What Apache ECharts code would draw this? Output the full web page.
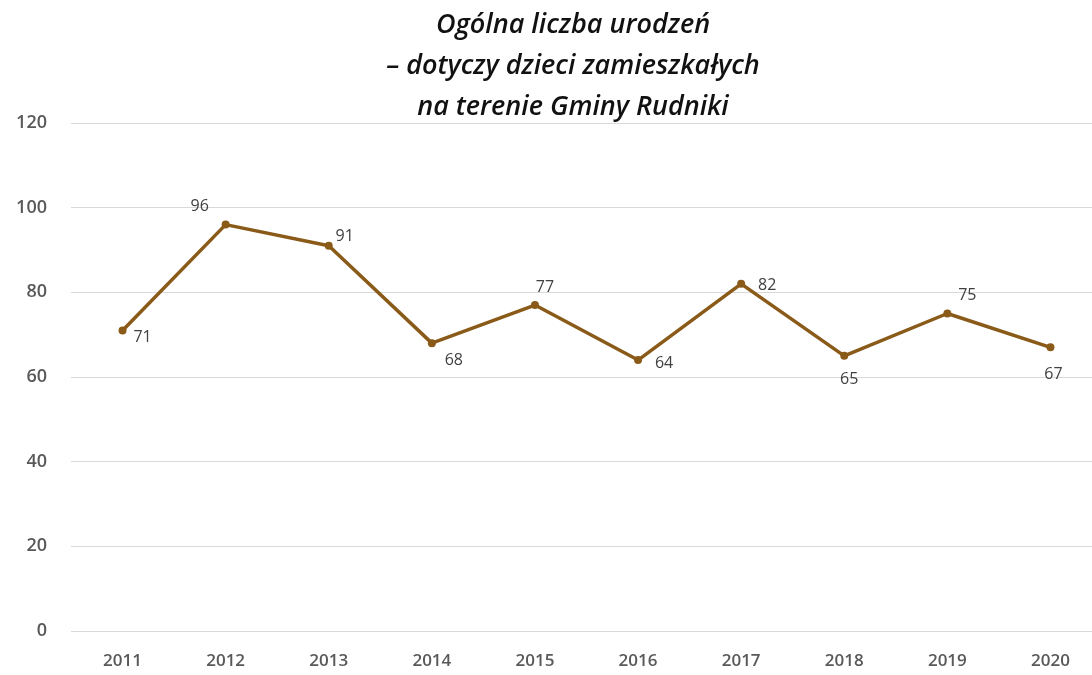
<!DOCTYPE html>
<html>
<head>
<meta charset="utf-8">
<title>Ogólna liczba urodzeń</title>
<script src="https://cdn.jsdelivr.net/npm/echarts@6/dist/echarts.min.js"></script>
<style>
  html, body { margin: 0; padding: 0; background: #fff; }
  #chart { width: 1092px; height: 675px; }
</style>
</head>
<body>
<div id="chart"></div>
<script>
const years = ['2011', '2012', '2013', '2014', '2015', '2016', '2017', '2018', '2019', '2020']
const births = [71, 96, 91, 68, 77, 64, 82, 65, 75, 67]
const yTicks = [0, 20, 40, 60, 80, 100, 120]

// where each value label sits relative to its point (px)
const labelOffsets = [[20, 7], [-26, -18], [16, -9], [22, 17], [10, -18], [26, 3], [26, 2], [5, 24], [20, -18], [3, 27]]

const chart = echarts.init(document.getElementById('chart'))
chart.setOption({
  animation: false,
  title: {
    text: 'Ogólna liczba urodzeń\n– dotyczy dzieci zamieszkałych\nna terenie Gminy Rudniki',
    left: 568,
    top: 0,
    textAlign: 'center',
    textStyle: {
      fontFamily: 'Open Sans',
      fontStyle: 'italic',
      fontWeight: 600,
      fontSize: 27,
      lineHeight: 41,
      color: '#111'
    }
  },
  grid: {
    left: 71,
    width: 1031,
    top: 123,
    bottom: 44,
    outerBoundsMode: 'none'
  },
  xAxis: {
    type: 'category',
    data: years,
    boundaryGap: true,
    axisLine: { show: false },
    axisTick: { show: false },
    axisLabel: {
      color: '#595959',
      fontFamily: 'Open Sans',
      fontWeight: 600,
      fontSize: 17,
      margin: 22
    }
  },
  yAxis: {
    type: 'value',
    min: yTicks[0],
    max: yTicks[yTicks.length - 1],
    interval: 20,
    axisLine: { show: false },
    axisTick: { show: false },
    axisLabel: {
      color: '#595959',
      fontFamily: 'Open Sans',
      fontWeight: 600,
      fontSize: 18,
      margin: 24
    },
    splitLine: {
      lineStyle: { color: '#d9d9d9', width: 1 }
    }
  },
  series: [
    {
      type: 'line',
      data: births.map((v, i) => ({
        value: v,
        label: { offset: labelOffsets[i] }
      })),
      symbol: 'circle',
      symbolSize: 8,
      lineStyle: { color: '#8a5a19', width: 3.5 },
      itemStyle: { color: '#8a5a19' },
      label: {
        show: true,
        position: 'inside',
        align: 'center',
        verticalAlign: 'middle',
        color: '#404040',
        fontFamily: 'Open Sans',
        fontSize: 16
      }
    }
  ]
})
</script>
</body>
</html>
